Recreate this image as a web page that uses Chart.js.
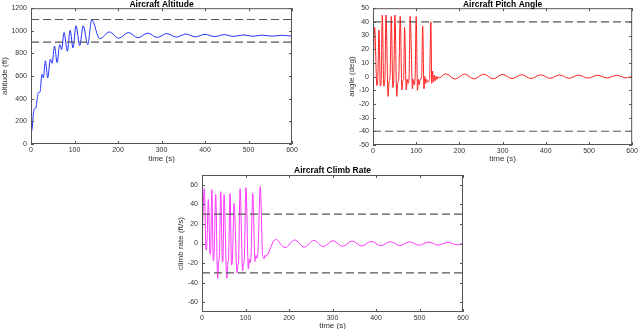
<!DOCTYPE html>
<html>
<head>
<meta charset="utf-8">
<script src="https://cdn.jsdelivr.net/npm/chart.js@4.4.0/dist/chart.umd.min.js"></script>
<style>
    html, body { margin: 0; padding: 0; background: #fff; overflow: hidden; width: 640px; height: 329px; }
    canvas { position: absolute; }
</style>
</head>
<body>
<canvas id="altitudeChart" width="300" height="165" style="left:0px;top:0px"></canvas>
<canvas id="pitchChart" width="293" height="165" style="left:347px;top:0px"></canvas>
<canvas id="climbChart" width="300" height="166" style="left:176px;top:165px"></canvas>
<script>
// Values
const timeTicks = [0, 100, 200, 300, 400, 500, 600];

const altTime = [0, 3, 5.5, 7.5, 11, 14, 17, 21, 22.5, 25, 28.5, 33, 38.5, 44.5, 48.5, 54, 60, 66, 70.5, 76,
    83.5, 90, 96.5, 103.5, 112, 120, 130.5, 139.5, 158, 180, 202, 224, 246, 268, 290, 312, 334, 356, 378, 400,
    422, 444, 466, 488, 510, 532, 554, 576, 600];
const altValue = [90, 150, 270, 310, 318, 390, 455, 460, 520, 615, 585, 735, 585, 750, 713, 865, 720, 878, 835, 985,
    820, 1005, 850, 1045, 870, 1045, 878, 1098, 930, 990, 935, 985, 939, 980, 942, 976, 945, 972, 947, 969,
    949, 966, 951, 964, 952, 962, 953, 960, 954];
const altLimits = [900, 1100];
const altTicks = [0, 200, 400, 600, 800, 1000, 1200];

const pitchTime = [0, 3.8, 9, 11, 13.8, 17, 19, 21.5, 25, 27.5, 30, 35, 37, 39.5, 42.3, 46, 48, 50.8, 55, 57,
    59.5, 63, 67, 69, 71, 73, 77, 79, 81, 83.5, 86, 91.5, 93, 95, 97.5, 100, 103, 105, 107, 109.5,
    112.5, 115, 118, 120, 122, 124, 126, 131, 134, 136, 138, 140, 142, 144, 146, 148, 150, 153, 168, 190,
    212, 234, 256, 278, 300, 322, 344, 366, 388, 410, 432, 454, 476, 498, 520, 542, 564, 586, 600];
const pitchValue = [0, 36, -6.5, -2, 34, -7, -2, 45, -7, -2, 45, -14.5, -4, 0, 44, -8, -3, 45, -14.5, -5,
    -2, 44, -9.7, -3, -2, 36, -9.7, -2, -5, 0, 44, -9, -2, -6, -1, 44, -10, -2, -6, -2,
    0, 37, -9, 0, -5, -2, -4, -2, 40, -5, 4, -4, 1, -3, 0, -2, 0, -1, 2.1, -1.8,
    1.9, -1.7, 1.8, -1.6, 1.6, -1.5, 1.4, -1.4, 1.3, -1.3, 1.2, -1.2, 1.1, -1.1, 1, -1, 0.9, -0.9, 0.2];
const pitchLimits = [-40, 40];
const pitchTicks = [-50, -40, -30, -20, -10, 0, 10, 20, 30, 40, 50];

const climbTime = [0, 5.4, 9.2, 11, 14.6, 18.4, 20, 22.5, 26, 28, 31.5, 36, 38.5, 40, 43, 47, 48.5, 50.6, 57, 59.5,
    61, 64.5, 68, 70, 73.7, 80.6, 82.5, 84, 87.5, 93.6, 95.5, 97, 101, 106.7, 108.5, 110, 112.5, 116.6, 122, 124,
    126, 128.5, 134, 139, 140.5, 142.7, 144.5, 146.5, 169, 191, 213, 235, 257, 279, 301, 323, 345, 367, 389, 411,
    433, 455, 477, 499, 521, 543, 565, 587, 600];
const climbValue = [2, 56, -6.5, -3, 45, -11, -6, 55, -17.7, -10, 50, -35.5, -18, -14, 53, -19, -13, 50, -35.5, -20,
    -16, 51, -22, -16, 41, -30, -22, -20, 56, -28, -20, -18, 57, -26, -16, -20, -14, 51, -18.4, -12,
    -15, -10, 58, -10, -14, -15.7, -12, -13, 4.3, -4.2, 3.6, -3.7, 3.2, -3.2, 2.8, -2.9, 2.5, -2.6, 2.2, -2.3,
    1.9, -2.0, 1.7, -1.8, 1.5, -1.6, 1.3, -1.4, 0.5];
const climbLimits = [-30, 30];
const climbTicks = [-60, -40, -20, 0, 20, 40, 60];

const FONT = '"Liberation Sans", Arial, Helvetica, sans-serif';
Chart.defaults.font.family = FONT;
Chart.defaults.color = '#333';

// MATLAB-ish box with inward ticks on all four sides, plus the bold title
const matlabFrame = {
    id: 'matlabFrame',
    afterDraw(chart, args, opts) {
        const { ctx, chartArea: a, scales } = chart;
        ctx.save();
        ctx.strokeStyle = '#555';
        ctx.lineWidth = 1;
        ctx.strokeRect(a.left + 0.5, a.top + 0.5, a.width - 1, a.height - 1);
        ctx.beginPath();
        scales.x.ticks.forEach(t => {
            const px = Math.round(scales.x.getPixelForValue(t.value)) + 0.5;
            ctx.moveTo(px, a.bottom); ctx.lineTo(px, a.bottom - 3);
            ctx.moveTo(px, a.top); ctx.lineTo(px, a.top + 3);
        });
        scales.y.ticks.forEach(t => {
            const py = Math.round(scales.y.getPixelForValue(t.value)) + 0.5;
            ctx.moveTo(a.left, py); ctx.lineTo(a.left + 3, py);
            ctx.moveTo(a.right, py); ctx.lineTo(a.right - 3, py);
        });
        ctx.stroke();
        ctx.fillStyle = '#000';
        ctx.font = 'bold 8.5px ' + FONT;
        ctx.textAlign = 'center';
        ctx.textBaseline = 'alphabetic';
        ctx.fillText(opts.text, (a.left + a.right) / 2, a.top - opts.gap);
        ctx.restore();
    }
};

function toPoints(xs, ys) {
    return xs.map((x, i) => ({ x: x, y: ys[i] }));
}

function limitLine(v) {
    return {
        data: [{ x: timeTicks[0], y: v }, { x: timeTicks[timeTicks.length - 1], y: v }],
        borderColor: '#555',
        borderWidth: 1.1,
        borderDash: [8, 4],
        pointRadius: 0,
        order: 1
    };
}

function makeChart(id, c) {
    new Chart(document.getElementById(id), {
        type: 'line',
        data: {
            datasets: [{
                data: toPoints(c.time, c.values),
                borderColor: c.color,
                borderWidth: 1,
                pointRadius: 0,
                cubicInterpolationMode: 'monotone',
                order: 2
            }, limitLine(c.limits[0]), limitLine(c.limits[1])]
        },
        options: {
            responsive: false,
            animation: false,
            events: [],
            layout: { padding: { top: c.padTop, right: c.padRight, bottom: 0, left: 0 } },
            plugins: {
                legend: { display: false },
                tooltip: { enabled: false },
                matlabFrame: { text: c.title, gap: c.titleGap }
            },
            scales: {
                x: {
                    type: 'linear',
                    min: timeTicks[0],
                    max: timeTicks[timeTicks.length - 1],
                    afterBuildTicks: s => { s.ticks = timeTicks.map(v => ({ value: v })); },
                    afterFit: s => { s.height = c.xHeight; },
                    grid: { display: false, drawTicks: false },
                    border: { display: false },
                    ticks: { font: { size: 7 }, padding: 2, maxRotation: 0, autoSkip: false, callback: v => String(v) },
                    title: { display: true, text: 'time (s)', font: { size: 8 }, padding: { top: 0, bottom: c.xTitlePad } }
                },
                y: {
                    min: c.yMin,
                    max: c.yMax,
                    afterBuildTicks: s => { s.ticks = c.ticks.map(v => ({ value: v })); },
                    afterFit: s => { s.width = c.yWidth; },
                    grid: { display: false, drawTicks: false },
                    border: { display: false },
                    ticks: { font: { size: 7 }, padding: 4, autoSkip: false, callback: v => String(v) },
                    title: { display: true, text: c.yLabel, font: { size: 8 }, padding: 0 }
                }
            }
        },
        plugins: [matlabFrame]
    });
}

makeChart('altitudeChart', {
    title: 'Aircraft Altitude', yLabel: 'altitude (ft)', color: '#2233ff',
    time: altTime, values: altValue, limits: altLimits, ticks: altTicks, yMin: 0, yMax: 1200,
    padTop: 6, padRight: 8, yWidth: 31, xHeight: 21, xTitlePad: 1, titleGap: 1.5
});
makeChart('pitchChart', {
    title: 'Aircraft Pitch Angle', yLabel: 'angle (deg)', color: '#ff2020',
    time: pitchTime, values: pitchValue, limits: pitchLimits, ticks: pitchTicks, yMin: -50, yMax: 50,
    padTop: 7, padRight: 7, yWidth: 26, xHeight: 20, xTitlePad: 1, titleGap: 1.5
});
makeChart('climbChart', {
    title: 'Aircraft Climb Rate', yLabel: 'climb rate (ft/s)', color: '#ff33ff',
    time: climbTime, values: climbValue, limits: climbLimits, ticks: climbTicks, yMin: -70, yMax: 70,
    padTop: 10, padRight: 13, yWidth: 26, xHeight: 19, xTitlePad: 0, titleGap: 2.5
});
</script>
</body>
</html>
